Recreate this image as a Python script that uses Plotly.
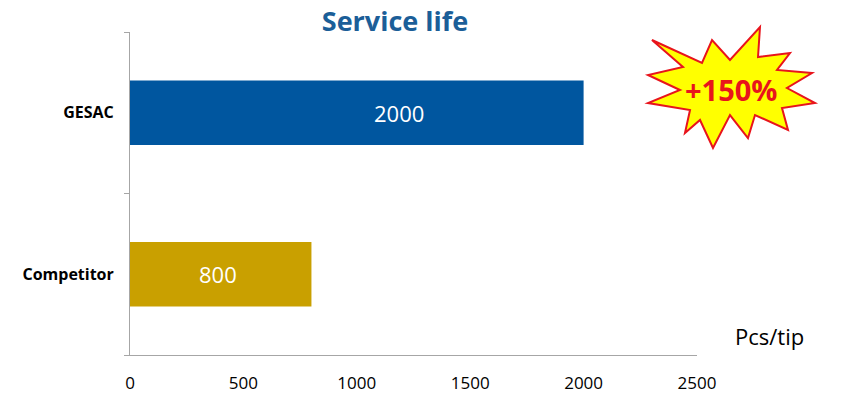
import plotly.graph_objects as go

categories = ["Competitor", "GESAC"]
values = [800, 2000]
bar_colors = ["#C9A000", "#00569F"]
x_ticks = [0, 500, 1000, 1500, 2000, 2500]
badge_text = "+150%"
unit_label = "Pcs/tip"
title_text = "Service life"

W, H = 846, 397
ML, MR, MT, MB = 130, 149, 32, 42
PW, PH = W - ML - MR, H - MT - MB

# value-label horizontal nudges (pixels), styling only
label_nudge = [-3, 42]

# starburst outline in pixel space (decoration)
star_px = [(760, 27), (758, 57), (790, 53), (777, 70), (812, 73), (787, 88),
           (815, 103), (782, 108), (788, 130), (755, 115), (748, 138), (730, 115),
           (713, 148), (700, 120), (685, 133), (690, 110), (648, 103), (680, 90),
           (648, 75), (683, 67), (652, 40), (702, 63), (712, 40), (730, 60)]


def to_paper(px, py):
    return (px - ML) / PW, (MT + PH - py) / PH


path = "M " + " L ".join(f"{to_paper(x, y)[0]:.4f},{to_paper(x, y)[1]:.4f}" for x, y in star_px) + " Z"

fig = go.Figure(go.Bar(
    x=values, y=categories, orientation="h",
    marker=dict(color=bar_colors, line=dict(width=0)),
    width=0.4, hoverinfo="skip",
))

value_annots = [
    dict(text=str(v), x=v / 2, y=c, xref="x", yref="y", showarrow=False,
         xanchor="center", yanchor="middle", xshift=dx,
         font=dict(size=22, color="white", family="Open Sans"))
    for c, v, dx in zip(categories, values, label_nudge)
]

fig.update_layout(
    width=W, height=H,
    margin=dict(l=ML, r=MR, t=MT, b=MB, autoexpand=False),
    plot_bgcolor="white", paper_bgcolor="white",
    showlegend=False,
    font=dict(family="Open Sans", color="black"),
    title=dict(text=f"<b>{title_text}</b>", x=395 / W, xanchor="center",
               y=1 - 22 / H, yanchor="middle",
               font=dict(size=27, color="#1B5E98", family="Open Sans")),
    xaxis=dict(range=[0, 2500], tickvals=x_ticks, ticktext=[str(t) for t in x_ticks],
               showgrid=False, zeroline=False, showline=True, linecolor="#A6A6A6",
               linewidth=1, ticks="", tickfont=dict(size=17, color="black"),
               ticklabelstandoff=13, automargin=False),
    yaxis=dict(categoryorder="array", categoryarray=categories,
               tickvals=categories, ticktext=[f"<b>{c}</b>" for c in categories],
               showgrid=False, zeroline=False, showline=True, linecolor="#A6A6A6",
               linewidth=1, ticks="outside", ticklen=5, tickcolor="#A6A6A6",
               tickson="boundaries", tickfont=dict(size=16, family="Open Sans", color="black"),
               ticklabelstandoff=12, automargin=False),
    shapes=[dict(type="path", path=path, xref="paper", yref="paper",
                 fillcolor="#FFFF00", line=dict(color="#E8141C", width=2), layer="above")],
    annotations=value_annots + [
        dict(text=f"<b>{badge_text}</b>", x=to_paper(731, 89)[0], y=to_paper(731, 89)[1],
             xref="paper", yref="paper", showarrow=False,
             xanchor="center", yanchor="middle",
             font=dict(size=29, color="#E8141C", family="Open Sans")),
        dict(text=unit_label, x=to_paper(769, 336)[0], y=to_paper(769, 336)[1],
             xref="paper", yref="paper", showarrow=False,
             xanchor="center", yanchor="middle",
             font=dict(size=22, color="black", family="Open Sans")),
    ],
)

fig.write_html("out.html", config={"displayModeBar": False},
               post_script="document.body.style.margin='0';")
